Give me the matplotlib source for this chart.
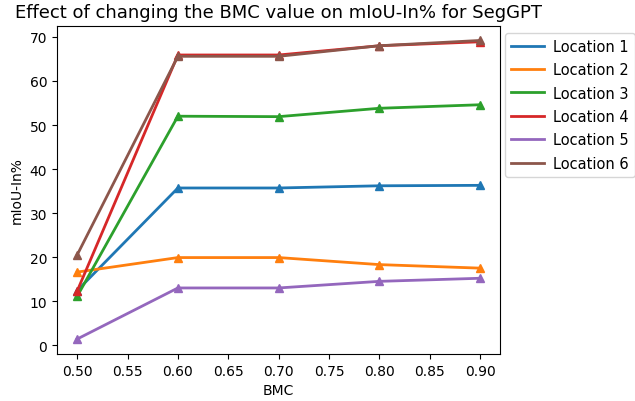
import matplotlib
matplotlib.use("Agg")
import matplotlib.pyplot as plt
from matplotlib.lines import Line2D

bmc = [0.5, 0.6, 0.7, 0.8, 0.9]
loc1 = [12.4, 35.7, 35.7, 36.2, 36.3]
loc2 = [16.6, 19.9, 19.9, 18.3, 17.5]
loc3 = [11.1, 52.0, 51.9, 53.8, 54.6]
loc4 = [12.3, 65.9, 65.9, 68.0, 68.9]
loc5 = [1.4, 13.0, 13.0, 14.5, 15.2]
loc6 = [20.5, 65.6, 65.6, 68.0, 69.2]
series = [loc1, loc2, loc3, loc4, loc5, loc6]
names = ["Location 1", "Location 2", "Location 3", "Location 4", "Location 5", "Location 6"]

fig = plt.figure(figsize=(6.35, 4.02), dpi=100)
ax = fig.add_axes([0.0898, 0.117, 0.698, 0.817])
handles = []
for i, (vals, nm) in enumerate(zip(series, names)):
    c = "C%d" % i
    ax.plot(bmc, vals, marker="^", linewidth=2, color=c)
    # legend shows plain lines, no markers
    handles.append(Line2D([], [], color=c, linewidth=2, label=nm))

ax.set_title("Effect of changing the BMC value on mIoU-In% for SegGPT", fontsize=13)
ax.set_xlabel("BMC")
ax.set_ylabel("mIoU-In%")
ax.legend(handles=handles, loc="upper left", bbox_to_anchor=(0.994, 1.0),
          fontsize=10.5, handlelength=2.26, handletextpad=0.65, labelspacing=0.58)
fig.savefig("out.png", dpi=100)
